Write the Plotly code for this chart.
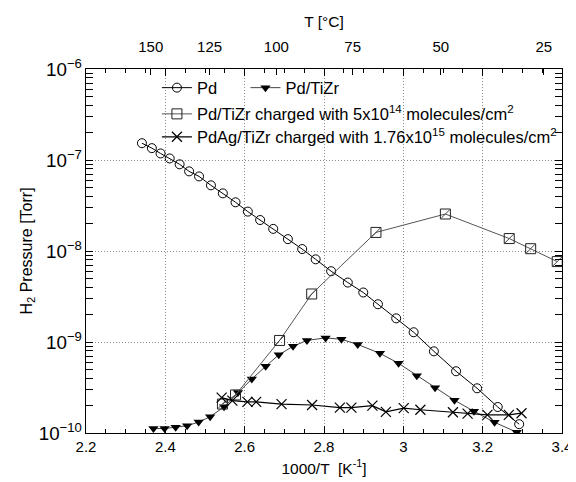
import plotly.graph_objects as go

# ---- data ----
pd_x = [2.341, 2.366, 2.388, 2.411, 2.436, 2.460, 2.485, 2.515, 2.545, 2.577, 2.608, 2.639,
        2.672, 2.709, 2.745, 2.779, 2.818, 2.860, 2.899, 2.936, 2.982, 3.026, 3.077, 3.133,
        3.186, 3.238, 3.292]
pd_y = [1.53e-7, 1.35e-7, 1.18e-7, 1.04e-7, 8.97e-8, 7.5e-8, 6.6e-8, 5.27e-8, 4.3e-8, 3.43e-8,
        2.71e-8, 2.19e-8, 1.75e-8, 1.35e-8, 1.05e-8, 8.1e-9, 6.0e-9, 4.5e-9, 3.5e-9, 2.6e-9,
        1.82e-9, 1.28e-9, 7.9e-10, 4.77e-10, 3.1e-10, 1.93e-10, 1.25e-10]

tizr_x = [2.370, 2.398, 2.426, 2.455, 2.484, 2.513, 2.548, 2.583, 2.618, 2.653, 2.686, 2.722,
          2.757, 2.804, 2.844, 2.885, 2.941, 2.988, 3.034, 3.080, 3.129, 3.178, 3.230, 3.286]
tizr_y = [1.12e-10, 1.12e-10, 1.16e-10, 1.2e-10, 1.32e-10, 1.51e-10, 1.94e-10, 2.78e-10,
          3.92e-10, 5.41e-10, 7.23e-10, 8.97e-10, 1.04e-9, 1.11e-9, 1.07e-9, 9.4e-10, 7.5e-10,
          5.83e-10, 4.27e-10, 3.15e-10, 2.29e-10, 1.73e-10, 1.31e-10, 1.02e-10]

chg_x = [2.544, 2.577, 2.688, 2.769, 2.931, 3.106, 3.267, 3.321, 3.388]
chg_y = [2.08e-10, 2.62e-10, 1.04e-9, 3.37e-9, 1.6e-8, 2.55e-8, 1.37e-8, 1.06e-8, 7.65e-9]

ag_x = [2.542, 2.569, 2.607, 2.629, 2.693, 2.770, 2.840, 2.869, 2.922, 2.956, 3.001, 3.043,
        3.125, 3.162, 3.212, 3.266, 3.298]
ag_y = [2.45e-10, 2.27e-10, 2.2e-10, 2.2e-10, 2.08e-10, 2.03e-10, 1.9e-10, 1.9e-10, 2.0e-10,
        1.71e-10, 1.88e-10, 1.8e-10, 1.69e-10, 1.63e-10, 1.58e-10, 1.58e-10, 1.65e-10]

top_temps_c = [150, 125, 100, 75, 50, 25]
top_tick_pos = [1000.0 / (t + 273.15) for t in top_temps_c]
top_tick_text = [str(t) for t in top_temps_c]

FONT = "Liberation Sans"
LEG_FONT = dict(family=FONT, size=16.5, color="black")

fig = go.Figure()

fig.add_trace(go.Scatter(
    x=pd_x, y=pd_y, mode="lines+markers", name="Pd", legend="legend",
    line=dict(color="black", width=1),
    marker=dict(symbol="circle-open", size=9, color="black", line=dict(width=1))))

fig.add_trace(go.Scatter(
    x=tizr_x, y=tizr_y, mode="lines+markers", name="Pd/TiZr", legend="legend2",
    line=dict(color="#444", width=1),
    marker=dict(symbol="triangle-down", size=9, color="black")))

fig.add_trace(go.Scatter(
    x=chg_x, y=chg_y, mode="lines+markers",
    name="Pd/TiZr charged with 5x10<sup>14</sup> molecules/cm<sup>2</sup>", legend="legend3",
    legendgroup="chg",
    line=dict(color="#555", width=1),
    marker=dict(symbol="square-open", size=10, color="#222", line=dict(width=1))))
fig.add_trace(go.Scatter(
    x=chg_x, y=chg_y, mode="markers", showlegend=False, legendgroup="chg",
    marker=dict(symbol="line-ne", size=9, color="#444", line=dict(width=1, color="#444")),
    hoverinfo="skip"))

fig.add_trace(go.Scatter(
    x=ag_x, y=ag_y, mode="lines+markers",
    name="PdAg/TiZr charged with 1.76x10<sup>15</sup> molecules/cm<sup>2</sup>", legend="legend4",
    line=dict(color="black", width=1.2),
    marker=dict(symbol="x-thin-open", size=10, color="black", line=dict(width=1.2))))

# invisible trace to activate top axis
fig.add_trace(go.Scatter(x=[2.2, 3.4], y=[1e-10, 1e-10], xaxis="x2", mode="lines",
                         line=dict(width=0), showlegend=False, hoverinfo="skip"))

axis_common = dict(showline=True, linecolor="black", linewidth=1.3, ticks="inside",
                   tickcolor="black", tickfont=dict(family=FONT, size=15, color="black"))

GRID = dict(showgrid=True, gridcolor="#8a8a8a", griddash="1px,2px", gridwidth=1)

fig.update_layout(
    width=576, height=482,
    margin=dict(l=78, r=14, t=61, b=57),
    plot_bgcolor="white", paper_bgcolor="white",
    font=dict(family=FONT, size=15, color="black"),
    xaxis=dict(range=[2.2, 3.4], dtick=0.2, tick0=2.2, ticklen=7, mirror="allticks",
               minor=dict(ticks="inside", dtick=0.05, ticklen=4, tickcolor="black", showgrid=False),
               title=dict(text="1000/T  [K<sup>-1</sup>]", standoff=8,
                          font=dict(family=FONT, size=15.5)),
               zeroline=False, **GRID, **axis_common),
    xaxis2=dict(range=[2.2, 3.4], overlaying="x", side="top", tickmode="array",
                tickvals=top_tick_pos, ticktext=top_tick_text, ticklen=6, showgrid=False,
                ticklabelstandoff=10,
                title=dict(text="T [°C]", standoff=6, font=dict(family=FONT, size=15.5)),
                zeroline=False, **axis_common),
    yaxis=dict(type="log", range=[-10, -6], dtick=1, exponentformat="power", ticklen=7,
               mirror="allticks",
               minor=dict(ticks="inside", ticklen=4, tickcolor="black", showgrid=False),
               title=dict(text="H<sub>2</sub> Pressure [Torr]", standoff=2,
                          font=dict(family=FONT, size=16)),
               zeroline=False, **GRID, **axis_common),
    legend=dict(x=0.149, y=0.948, xanchor="left", yanchor="middle", bgcolor="rgba(0,0,0,0)",
                font=LEG_FONT),
    legend2=dict(x=0.335, y=0.948, xanchor="left", yanchor="middle", bgcolor="rgba(0,0,0,0)",
                 font=LEG_FONT),
    legend3=dict(x=0.149, y=0.876, xanchor="left", yanchor="middle", bgcolor="rgba(0,0,0,0)",
                 font=LEG_FONT),
    legend4=dict(x=0.149, y=0.813, xanchor="left", yanchor="middle", bgcolor="rgba(0,0,0,0)",
                 font=LEG_FONT),
)

fig.write_html("out.html")
